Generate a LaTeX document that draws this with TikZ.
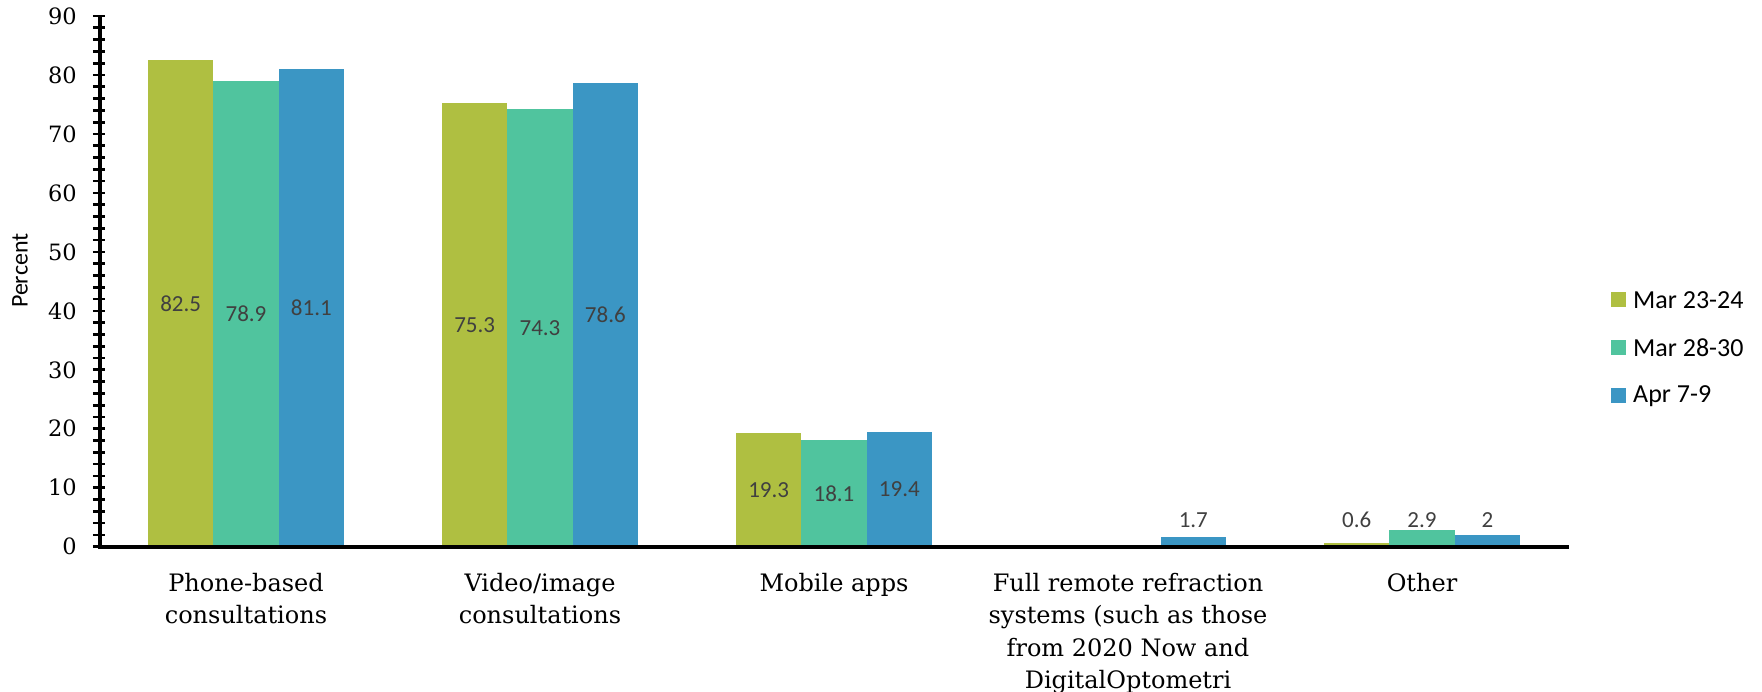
\documentclass[tikz,border=0pt]{standalone}
\usepackage{fontspec}
\setmainfont{DejaVu Serif}
\newfontfamily\calibri{Carlito}
\usetikzlibrary{positioning}

\definecolor{olivebar}{RGB}{175,191,65}
\definecolor{tealbar}{RGB}{80,196,158}
\definecolor{bluebar}{RGB}{59,150,196}
\definecolor{labgray}{RGB}{64,64,64}

\tikzset{
  vallab/.style={font=\calibri\fontsize{23}{23}\selectfont, text=labgray, inner sep=0pt},
  catlab/.style={font=\fontsize{24}{32.6}\selectfont, align=center, anchor=north, inner sep=0pt},
  ticklab/.style={font=\fontsize{22.5}{22.5}\selectfont, anchor=east, inner sep=0pt},
  legtext/.style={font=\calibri\fontsize{26}{26}\selectfont, anchor=west, inner sep=0pt},
  tickmark/.style={line width=2.7pt},
  axisline/.style={line width=4.3pt}
}
\def\yu{5.896}

\begin{document}
\begin{tikzpicture}[line cap=butt,line join=miter,x=1pt,y=1pt]
        \useasboundingbox (-100,-145.3) rectangle (1662,546.7);
        % bars
        \foreach \g/\s/\col/\v in {0/0/olivebar/82.5,0/1/tealbar/78.9,0/2/bluebar/81.1,
                                   1/0/olivebar/75.3,1/1/tealbar/74.3,1/2/bluebar/78.6,
                                   2/0/olivebar/19.3,2/1/tealbar/18.1,2/2/bluebar/19.4,
                                   3/2/bluebar/1.7,
                                   4/0/olivebar/0.6,4/1/tealbar/2.9,4/2/bluebar/2}
            \fill[\col] (48+294*\g+65.33*\s,0) rectangle ++(65.33,\v*\yu);
        % labels inside the bars
        \foreach \g/\s/\v in {0/0/82.5,0/1/78.9,0/2/81.1,1/0/75.3,1/1/74.3,1/2/78.6,
                              2/0/19.3,2/1/18.1,2/2/19.4}
            \node[vallab] (v\g\s) at (80.67+294*\g+65.33*\s,\v*\yu/2) {\v};
        % labels over the short bars
        \foreach \g/\s/\v in {3/2/1.7,4/0/0.6,4/1/2.9,4/2/2}
            \node[vallab,anchor=base] (v\g\s) at (80.67+294*\g+65.33*\s,19) {\v};
        % axes
        \coordinate (o) at (0,0);
        \coordinate (ytop) at (0,90*\yu);
        \coordinate (xend) at (1469,0);
        \foreach \t in {0,2,...,90}
            \draw[tickmark] (-7,\t*\yu) -- (5.5,\t*\yu);
        \draw[axisline] (ytop) -- (o) -- (xend);
        \foreach \t in {0,10,...,90}
            \node[ticklab] (t\t) at (-23,\t*\yu) {\t};
        \node[font=\calibri\fontsize{24}{24}\selectfont,rotate=90] (ylab) at (-80,276) {Percent};
        % categories
        \node[catlab] (c0) at (146,-26) {Phone-based\\consultations};
        \node[catlab] (c1) at (440,-26) {Video/image\\consultations};
        \node[catlab] (c2) at (734,-26) {Mobile apps};
        \node[catlab] (c3) at (1028,-26) {Full remote refraction\\systems (such as those\\from 2020 Now and\\DigitalOptometri};
        \node[catlab] (c4) at (1322,-26) {Other};
        % legend
        \foreach \col/\txt [count=\k from 0] in {olivebar/Mar 23-24,tealbar/Mar 28-30,bluebar/Apr 7-9}{
            \fill[\col] (1511,247-48*\k-7.5) rectangle ++(15,15);
            \node[legtext] (leg\k) at (1533,247-48*\k) {\txt};
        }
    \end{tikzpicture}
\end{document}
